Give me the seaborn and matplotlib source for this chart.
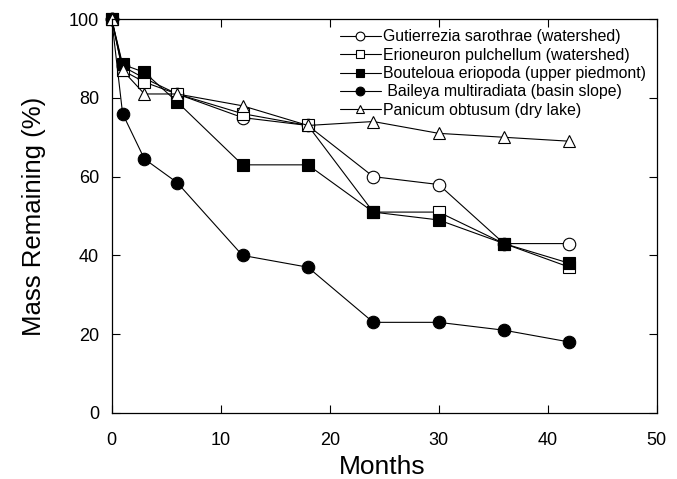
import matplotlib
matplotlib.use("Agg")
import matplotlib.pyplot as plt
import seaborn as sns

months = [0, 1, 3, 6, 12, 18, 24, 30, 36, 42]

gutierrezia = [100, 88, 85, 81, 75, 73, 60, 58, 43, 43]
erioneuron = [100, 87, 84, 81, 76, 73, 51, 51, 43, 37]
bouteloua = [100, 88.5, 86.5, 79, 63, 63, 51, 49, 43, 38]
baileya = [100, 76, 64.5, 58.5, 40, 37, 23, 23, 21, 18]
panicum = [100, 87, 81, 81, 78, 73, 74, 71, 70, 69]

labels = [
    "Gutierrezia sarothrae (watershed)",
    "Erioneuron pulchellum (watershed)",
    "Bouteloua eriopoda (upper piedmont)",
    " Baileya multiradiata (basin slope)",
    "Panicum obtusum (dry lake)",
]

sns.set_style("ticks")
plt.rcParams['font.family'] = ['Liberation Sans', 'DejaVu Sans']
plt.rcParams['text.color'] = 'black'
plt.rcParams['axes.labelcolor'] = 'black'
plt.rcParams['xtick.color'] = 'black'
plt.rcParams['ytick.color'] = 'black'

fig = plt.figure(figsize=(6.77, 4.79), dpi=100)
ax = fig.add_axes([0.165, 0.138, 0.805, 0.822])

# estilo de cada serie: marcador, relleno, tamaño
estilos = [
    (gutierrezia, "o", "white", 9),
    (erioneuron, "s", "white", 9),
    (bouteloua, "s", "black", 9),
    (baileya, "o", "black", 9),
    (panicum, "^", "white", 8),
]

for (vals, mk, fc, ms), lab in zip(estilos, labels):
    sns.lineplot(x=months, y=vals, ax=ax, color="black", linewidth=0.8,
                 marker=mk, markerfacecolor=fc, markeredgecolor="black",
                 markersize=ms, markeredgewidth=0.8, label=lab, clip_on=False)

ax.set_xlim(0, 50)
ax.set_ylim(0, 100)
ax.set_xticks(range(0, 51, 10))
ax.set_yticks(range(0, 101, 20))
ax.tick_params(direction="in", top=True, right=True, labelsize=13, length=6, width=0.8)
ax.tick_params(axis="x", pad=14)
ax.tick_params(axis="y", pad=9)
for s in ax.spines.values():
    s.set_linewidth(0.9)
    s.set_color("black")

ax.set_xlabel("Months", fontsize=19)
ax.set_ylabel("Mass Remaining (%)", fontsize=18.5)
ax.xaxis.set_label_coords(0.496, -0.106)
ax.yaxis.set_label_coords(-0.12, 0.5)

leg = ax.legend(loc="upper right", frameon=False, fontsize=11.4, handlelength=2.6,
                handletextpad=0.15, labelspacing=0.21, borderaxespad=0.0,
                borderpad=0.65, markerscale=0.7)

fig.savefig("out.png", dpi=100)
